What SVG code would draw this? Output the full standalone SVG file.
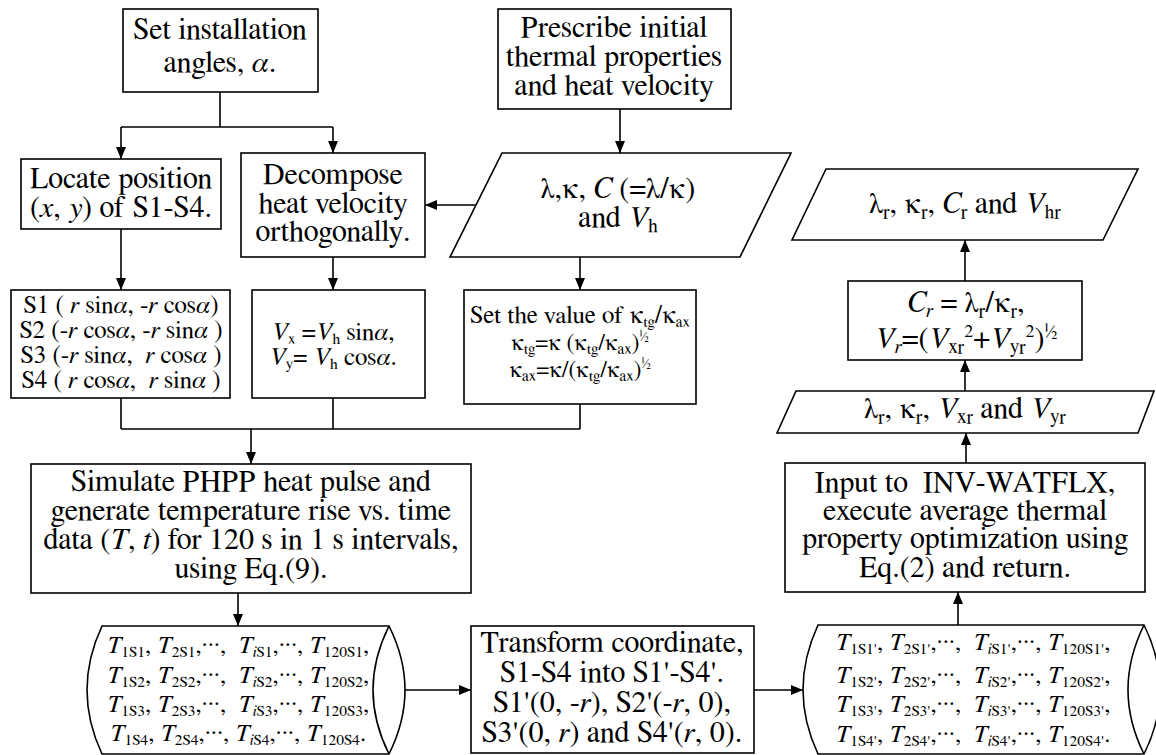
<svg xmlns="http://www.w3.org/2000/svg" width="1156" height="755" viewBox="0 0 1156 755" font-family="FreeSerif, 'Liberation Serif', serif">
<defs>
<marker id="ah" markerUnits="userSpaceOnUse" markerWidth="12" markerHeight="10" refX="12" refY="5" orient="auto">
<path d="M0,0 L12,5 L0,10 Z" fill="#000"/>
</marker>
<style>
.box{fill:#fff;stroke:#000;stroke-width:1.6}
.c{fill:none;stroke:#000;stroke-width:1.6}
.a{fill:none;stroke:#000;stroke-width:1.6;marker-end:url(#ah)}
text{font-family:FreeSerif,'Liberation Serif',serif;fill:#000;text-anchor:middle}
.t{font-size:30px}
.m{font-size:25px}
.d{font-size:24.5px}
.i{font-style:italic}
.sb{font-size:19px;baseline-shift:-5px}
.sbs{font-size:15.5px;baseline-shift:-4px}
.sp{font-size:18px;baseline-shift:11px}
.sps{font-size:13px;baseline-shift:9px}
</style>
</defs>
<rect width="1156" height="755" fill="#fff"/>

<g id="connectors">
<path class="c" d="M220,92 V127 M121,127 H333"/>
<path class="a" d="M121,127 V159"/>
<path class="a" d="M333,127 V153"/>
<path class="a" d="M620,109 V153"/>
<path class="a" d="M476,205 H425"/>
<path class="a" d="M580,257 V290"/>
<path class="a" d="M121,229 V290"/>
<path class="a" d="M333,257 V290"/>
<path class="c" d="M121,398 V429 M333,398 V429 M580,404 V429 M121,429 H580"/>
<path class="a" d="M251,429 V464"/>
<path class="a" d="M238,593 V626"/>
<path class="a" d="M389,690 H471"/>
<path class="a" d="M754,690 H803"/>
<path class="a" d="M958,625 V592"/>
<path class="a" d="M966,463 V433"/>
<path class="a" d="M965,391 V360"/>
<path class="a" d="M965,281 V240"/>
</g>

<g id="n_angles">
<rect class="box" x="123" y="9" width="195" height="83"/>
<text class="t" x="220" y="39">Set installation</text>
<text class="t" x="220" y="72">angles, <tspan class="i">α</tspan>.</text>
</g>

<g id="n_prescribe">
<rect class="box" x="498" y="9" width="233" height="100"/>
<text class="t" x="614" y="37">Prescribe initial</text>
<text class="t" x="614" y="66">thermal properties</text>
<text class="t" x="614" y="95">and heat velocity</text>
</g>

<g id="n_locate">
<rect class="box" x="21" y="159" width="200" height="70"/>
<text class="t" x="121" y="188">Locate position</text>
<text class="t" x="121" y="217">(<tspan class="i">x</tspan>, <tspan class="i">y</tspan>) of S1-S4.</text>
</g>

<g id="n_decompose">
<rect class="box" x="241" y="153" width="184" height="104"/>
<text class="t" x="333" y="184">Decompose</text>
<text class="t" x="333" y="213">heat velocity</text>
<text class="t" x="333" y="241">orthogonally.</text>
</g>

<g id="n_props">
<polygon class="box" points="502,153 791,153 740,257 450,257"/>
<text class="t" x="618" y="198">λ,κ, <tspan class="i">C</tspan> (=λ/κ)</text>
<text class="t" x="618" y="227">and <tspan class="i">V</tspan><tspan class="sb">h</tspan></text>
</g>

<g id="n_positions">
<rect class="box" x="11" y="290" width="219" height="108"/>
<text class="m" x="121" y="313">S1 ( <tspan class="i">r</tspan> sin<tspan class="i">α</tspan>, -<tspan class="i">r</tspan> cos<tspan class="i">α</tspan>)</text>
<text class="m" x="121" y="338">S2 (-<tspan class="i">r</tspan> cos<tspan class="i">α</tspan>, -<tspan class="i">r</tspan> sin<tspan class="i">α</tspan> )</text>
<text class="m" x="121" y="363">S3 (-<tspan class="i">r</tspan> sin<tspan class="i">α</tspan>,&#160; <tspan class="i">r</tspan> cos<tspan class="i">α</tspan> )</text>
<text class="m" x="121" y="388">S4 ( <tspan class="i">r</tspan> cos<tspan class="i">α</tspan>,&#160; <tspan class="i">r</tspan> sin<tspan class="i">α</tspan> )</text>
</g>

<g id="n_velocity">
<rect class="box" x="252" y="290" width="173" height="108"/>
<text class="m" x="333" y="340"><tspan class="i">V</tspan><tspan class="sbs">x</tspan> =<tspan class="i">V</tspan><tspan class="sbs">h</tspan> sin<tspan class="i">α</tspan>,</text>
<text class="m" x="333" y="365"><tspan class="i">V</tspan><tspan class="sbs">y</tspan>= <tspan class="i">V</tspan><tspan class="sbs">h</tspan> cos<tspan class="i">α</tspan>.</text>
</g>

<g id="n_ratio">
<rect class="box" x="464" y="290" width="232" height="114"/>
<text style="font-size:25px" x="580" y="323">Set the value of κ<tspan class="sbs">tg</tspan>/κ<tspan class="sbs">ax</tspan></text>
<text style="font-size:23px" x="580" y="350">κ<tspan class="sbs">tg</tspan>=κ (κ<tspan class="sbs">tg</tspan>/κ<tspan class="sbs">ax</tspan>)<tspan class="sps">½</tspan></text>
<text style="font-size:23px" x="580" y="377">κ<tspan class="sbs">ax</tspan>=κ/(κ<tspan class="sbs">tg</tspan>/κ<tspan class="sbs">ax</tspan>)<tspan class="sps">½</tspan></text>
</g>

<g id="n_simulate">
<rect class="box" x="31" y="464" width="440" height="129"/>
<text class="t" x="251" y="491">Simulate PHPP heat pulse and</text>
<text class="t" x="251" y="520">generate temperature rise vs. time</text>
<text class="t" x="251" y="549">data (<tspan class="i">T</tspan>, <tspan class="i">t</tspan>) for 120 s in 1 s intervals,</text>
<text class="t" x="251" y="578">using Eq.(9).</text>
</g>

<g id="n_data1">
<path class="box" d="M389,626 L102,626 Q72,690 102,754 L389,754 Q421,690 389,626 Z"/>
<path class="c" d="M389,626 Q357,690 389,754"/>
<text class="d" x="238" y="653"><tspan class="i">T</tspan><tspan class="sbs">1S1</tspan>, <tspan class="i">T</tspan><tspan class="sbs">2S1</tspan>,···,&#160; <tspan class="i">T</tspan><tspan class="sbs"><tspan class="i">i</tspan>S1</tspan>,···, <tspan class="i">T</tspan><tspan class="sbs">120S1</tspan>,</text>
<text class="d" x="238" y="683"><tspan class="i">T</tspan><tspan class="sbs">1S2</tspan>, <tspan class="i">T</tspan><tspan class="sbs">2S2</tspan>,···,&#160; <tspan class="i">T</tspan><tspan class="sbs"><tspan class="i">i</tspan>S2</tspan>,···, <tspan class="i">T</tspan><tspan class="sbs">120S2</tspan>,</text>
<text class="d" x="238" y="712"><tspan class="i">T</tspan><tspan class="sbs">1S3</tspan>, <tspan class="i">T</tspan><tspan class="sbs">2S3</tspan>,···,&#160; <tspan class="i">T</tspan><tspan class="sbs"><tspan class="i">i</tspan>S3</tspan>,···, <tspan class="i">T</tspan><tspan class="sbs">120S3</tspan>,</text>
<text class="d" x="238" y="741"><tspan class="i">T</tspan><tspan class="sbs">1S4</tspan>, <tspan class="i">T</tspan><tspan class="sbs">2S4</tspan>,···, <tspan class="i">T</tspan><tspan class="sbs"><tspan class="i">i</tspan>S4</tspan>,···, <tspan class="i">T</tspan><tspan class="sbs">120S4</tspan>.</text>
</g>

<g id="n_transform">
<rect class="box" x="471" y="626" width="283" height="127"/>
<text class="t" x="612" y="652">Transform coordinate,</text>
<text class="t" x="612" y="682">S1-S4 into S1'-S4'.</text>
<text class="t" x="612" y="712">S1'(0, -<tspan class="i">r</tspan>), S2'(-<tspan class="i">r</tspan>, 0),</text>
<text class="t" x="612" y="742">S3'(0, <tspan class="i">r</tspan>) and S4'(<tspan class="i">r</tspan>, 0).</text>
</g>

<g id="n_data2">
<path class="box" d="M1144,625 L818,625 Q788,690 818,754 L1144,754 Q1176,690 1144,625 Z"/>
<path class="c" d="M1144,625 Q1112,690 1144,754"/>
<text class="d" x="973" y="650"><tspan class="i">T</tspan><tspan class="sbs">1S1'</tspan>, <tspan class="i">T</tspan><tspan class="sbs">2S1'</tspan>,···,&#160; <tspan class="i">T</tspan><tspan class="sbs"><tspan class="i">i</tspan>S1'</tspan>,···, <tspan class="i">T</tspan><tspan class="sbs">120S1'</tspan>,</text>
<text class="d" x="973" y="683"><tspan class="i">T</tspan><tspan class="sbs">1S2'</tspan>, <tspan class="i">T</tspan><tspan class="sbs">2S2'</tspan>,···,&#160; <tspan class="i">T</tspan><tspan class="sbs"><tspan class="i">i</tspan>S2'</tspan>,···, <tspan class="i">T</tspan><tspan class="sbs">120S2'</tspan>,</text>
<text class="d" x="973" y="712"><tspan class="i">T</tspan><tspan class="sbs">1S3'</tspan>, <tspan class="i">T</tspan><tspan class="sbs">2S3'</tspan>,···,&#160; <tspan class="i">T</tspan><tspan class="sbs"><tspan class="i">i</tspan>S3'</tspan>,···, <tspan class="i">T</tspan><tspan class="sbs">120S3'</tspan>,</text>
<text class="d" x="973" y="742"><tspan class="i">T</tspan><tspan class="sbs">1S4'</tspan>, <tspan class="i">T</tspan><tspan class="sbs">2S4'</tspan>,···,&#160; <tspan class="i">T</tspan><tspan class="sbs"><tspan class="i">i</tspan>S4'</tspan>,···, <tspan class="i">T</tspan><tspan class="sbs">120S4'</tspan>.</text>
</g>

<g id="n_input">
<rect class="box" x="785" y="463" width="360" height="129"/>
<text class="t" x="965" y="492">Input to&#160; INV-WATFLX,</text>
<text class="t" x="965" y="520">execute average thermal</text>
<text class="t" x="965" y="548">property optimization using</text>
<text class="t" x="965" y="577">Eq.(2) and return.</text>
</g>

<g id="n_result_xy">
<polygon class="box" points="796,391 1154,391 1138,433 777,433"/>
<text class="t" x="965" y="418">λ<tspan class="sb">r</tspan>, κ<tspan class="sb">r</tspan>, <tspan class="i">V</tspan><tspan class="sb">xr</tspan> and <tspan class="i">V</tspan><tspan class="sb">yr</tspan></text>
</g>

<g id="n_calc">
<rect class="box" x="848" y="281" width="234" height="79"/>
<text class="t" x="966" y="312"><tspan class="i">C</tspan><tspan class="sb i">r</tspan> = λ<tspan class="sb">r</tspan>/κ<tspan class="sb">r</tspan>,</text>
<text class="t" x="966" y="348"><tspan class="i">V</tspan><tspan class="sb i">r</tspan>=(<tspan class="i">V</tspan><tspan class="sb">xr</tspan><tspan class="sp">2</tspan>+<tspan class="i">V</tspan><tspan class="sb">yr</tspan><tspan class="sp">2</tspan>)<tspan class="sp">½</tspan></text>
</g>

<g id="n_result">
<polygon class="box" points="826,169 1138,169 1103,240 792,240"/>
<text class="t" x="965" y="213">λ<tspan class="sb">r</tspan>, κ<tspan class="sb">r</tspan>, <tspan class="i">C</tspan><tspan class="sb">r</tspan> and <tspan class="i">V</tspan><tspan class="sb">hr</tspan></text>
</g>
</svg>
